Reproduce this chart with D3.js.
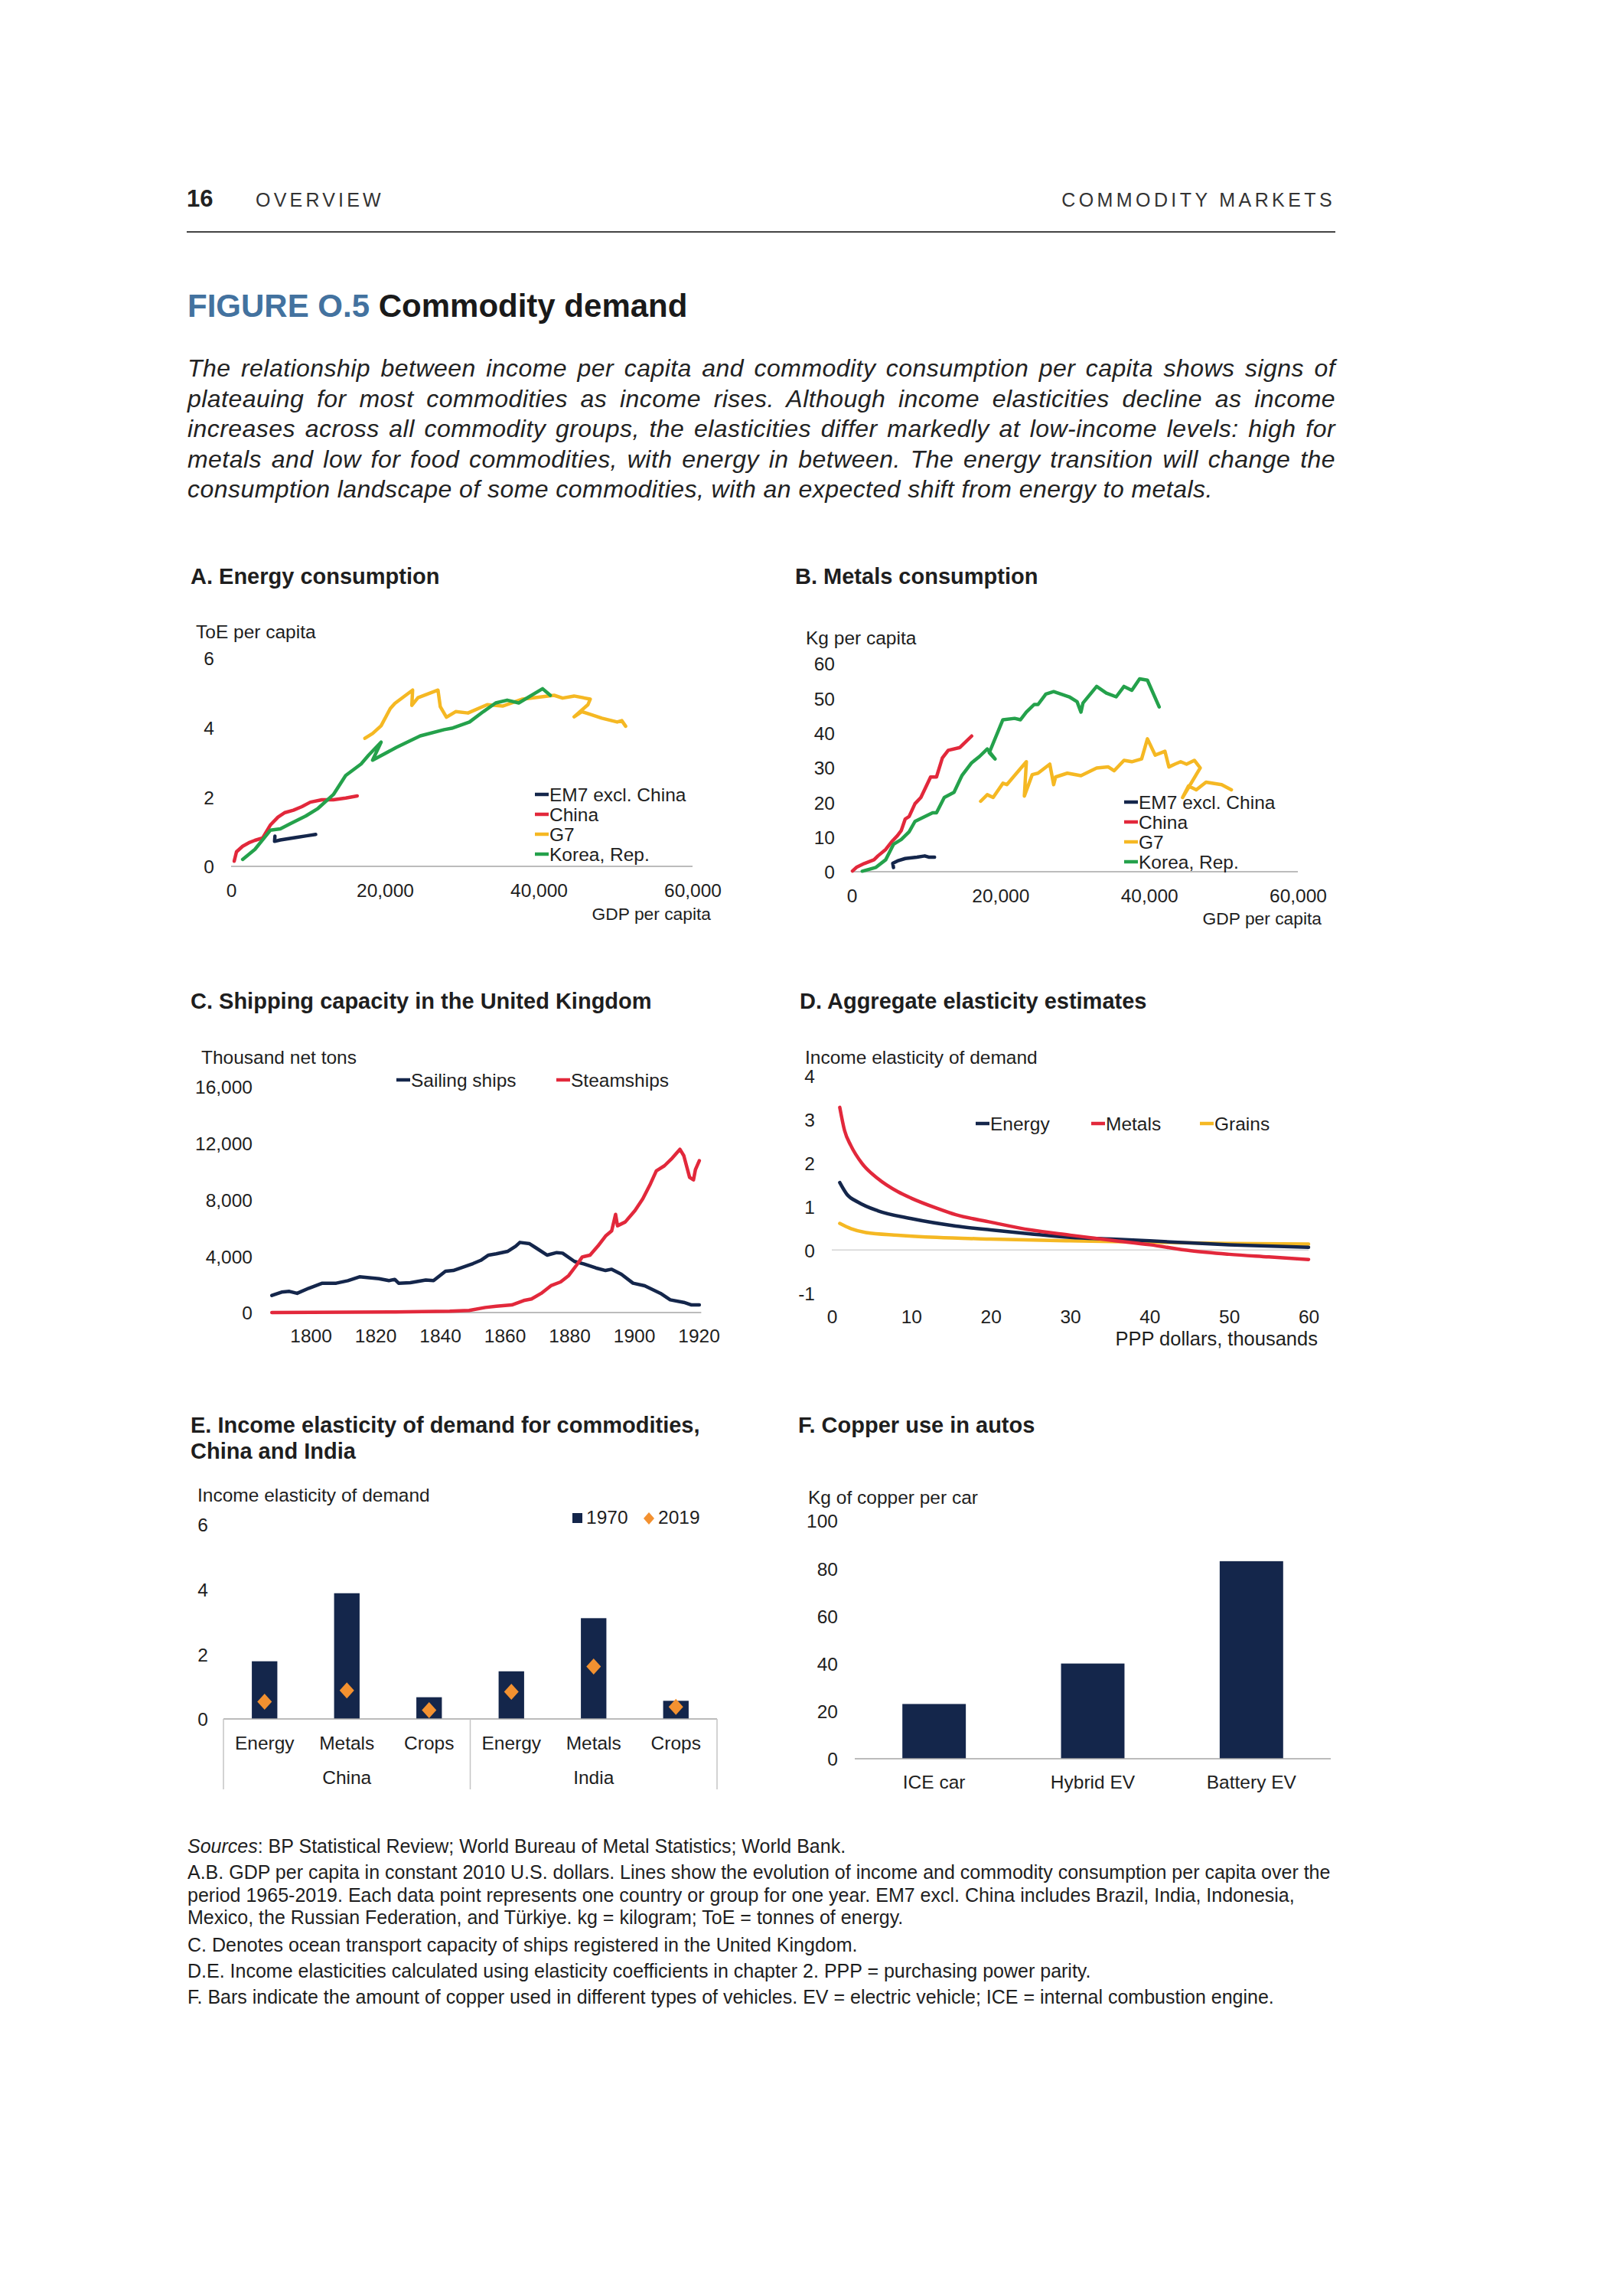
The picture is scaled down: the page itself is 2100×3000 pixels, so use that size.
<!DOCTYPE html>
<html><head><meta charset="utf-8">
<script src="https://cdn.jsdelivr.net/npm/d3@7"></script>
<style>body{margin:0;background:#fff}</style>
</head><body>
<svg id="c" width="2100" height="3000" xmlns="http://www.w3.org/2000/svg"></svg>
<script>
// ---------------- DATA ----------------
// Panel A: Energy consumption (GDP per capita, ToE per capita)
const energyEM7 = [[5700,0.87],[5650,0.72],[6400,0.76],[7500,0.8],[8600,0.84],[9800,0.88],[11000,0.92]];
const energyChina = [[400,0.15],[700,0.42],[1500,0.58],[2300,0.68],[3100,0.75],[4100,0.82],[5100,1.19],[6100,1.42],[7000,1.55],[8100,1.62],[9200,1.72],[10300,1.85],[11800,1.92],[13300,1.92],[14900,1.97],[16400,2.03]];
const energyG7 = [[17400,3.69],[18400,3.83],[19500,4.05],[20700,4.55],[21300,4.7],[23600,5.08],[23500,4.64],[24300,4.86],[26900,5.08],[27200,4.6],[28000,4.3],[29200,4.46],[30800,4.42],[33300,4.66],[35300,4.62],[37900,4.82],[42000,4.93],[43100,4.85],[44600,4.91],[46700,4.82],[46400,4.66],[44600,4.31],[45600,4.46],[46700,4.38],[48200,4.27],[50200,4.16],[50800,4.2],[51300,4.04]];
const energyKorea = [[1500,0.2],[3100,0.49],[5100,1.04],[6400,1.08],[7700,1.23],[9700,1.45],[11300,1.67],[13300,2.07],[14900,2.62],[16900,2.95],[17900,3.21],[19500,3.58],[18400,3.06],[21500,3.43],[24600,3.76],[27700,3.94],[28700,3.98],[31000,4.16],[32800,4.46],[34400,4.71],[35900,4.79],[37400,4.71],[40500,5.12],[41500,4.93]];

// Panel B: Metals consumption (GDP per capita, kg per capita)
const metalsEM7 = [[5620,1.2],[5520,2.4],[6150,3.1],[7200,3.8],[8770,4.2],[9820,4.55],[10350,4.2],[11140,4.2]];
const metalsChina = [[100,0.2],[630,1.25],[1680,2.35],[3000,3.45],[3520,4.55],[4570,6.4],[5360,8.6],[6150,10.4],[6670,11.9],[7200,15.2],[7720,15.9],[8510,19.6],[9300,21.4],[10610,27.3],[11400,27.3],[12190,32.8],[12980,35],[14550,35.8],[15080,36.9],[16130,39.1]];
const metalsG7 = [[17340,20.3],[18230,22.2],[19020,21.4],[20330,25.5],[20860,25.1],[22170,28.4],[23490,31.7],[23220,21.8],[24280,28],[25060,28.4],[26640,31],[27160,25.1],[27420,27.3],[29000,28.4],[30830,27.7],[32940,29.9],[34510,30.2],[35300,29.1],[36620,32.1],[37670,31.7],[38990,32.5],[39770,38.3],[40820,33.6],[42130,34.7],[42660,30.2],[43450,31],[44240,31.7],[45030,31],[46080,32.1],[46870,29.9],[44500,21.4],[45290,24.7],[46340,23.6],[47650,25.8],[49750,25.1],[51060,23.6]];
const metalsKorea = [[1420,0.15],[3260,1.25],[4570,3.45],[5620,7.9],[6670,9.3],[7720,11.5],[8510,14.5],[9820,15.9],[10880,17],[11400,17],[12450,21.4],[13760,22.9],[14820,27.7],[16130,31.4],[17180,33.2],[18230,35.4],[19280,32.5],[18500,34.3],[20330,43.8],[21910,44.2],[22700,43.8],[23490,46],[24540,48.2],[25060,48.2],[26110,51.2],[27160,51.9],[29260,50.4],[30310,49],[30830,46],[31100,48.6],[32940,53.4],[34250,51.5],[35570,50.4],[36620,53.4],[37670,52.3],[38720,55.6],[39770,55.2],[41350,47.5]];

// Panel C: Shipping capacity UK (year, thousand net tons)
const sailingShips = [[1788,1210],[1791,1450],[1793.4,1500],[1795.8,1360],[1799.4,1720],[1803.6,2080],[1807.9,2080],[1811.5,2260],[1815.1,2530],[1821.1,2400],[1824.2,2260],[1826,2350],[1827.2,2080],[1830.8,2120],[1835.6,2300],[1838,2260],[1841.7,2930],[1844.1,2980],[1850.2,3470],[1852.6,3700],[1855,4070],[1857.4,4160],[1861,4340],[1863.4,4700],[1864.7,4970],[1867.7,4880],[1869.5,4610],[1873.1,4070],[1876.1,4250],[1877.9,4210],[1881.6,3620],[1884.6,3440],[1888.2,3160],[1891.2,2980],[1893.1,3070],[1896.1,2710],[1899.7,2080],[1903.3,1900],[1908.2,1360],[1911.2,900],[1915.4,720],[1917.8,540],[1920.2,540]];
const steamShips = [[1788,0],[1826,40],[1843,90],[1849,145],[1854,360],[1857.4,450],[1862.2,540],[1865.9,850],[1868.3,960],[1871.3,1360],[1874.3,1900],[1877.3,2170],[1879.8,2620],[1882.2,3350],[1884,3940],[1886.4,4070],[1888.8,4700],[1891.2,5420],[1893.1,5790],[1894.3,6960],[1894.9,6150],[1897.3,6420],[1900.3,7230],[1902.7,8050],[1905.1,9130],[1906.9,10040],[1909.4,10400],[1911.8,10940],[1914.2,11570],[1915.4,11120],[1917.2,9580],[1918.4,9400],[1919,10130],[1920.2,10760]];

// Panel D: Aggregate elasticity estimates (PPP thousands, elasticity)
const elastEnergy = [[1,1.55],[1.9,1.28],[3.3,1.1],[5.8,0.9],[10,0.72],[15.6,0.55],[20,0.46],[25,0.37],[30,0.29],[35.3,0.25],[40,0.21],[45.2,0.16],[50,0.12],[60,0.06]];
const elastMetals = [[1,3.28],[1.6,2.75],[2.4,2.4],[3.8,1.99],[5.8,1.64],[8.3,1.34],[10,1.19],[13.2,0.96],[15.6,0.81],[20,0.64],[25,0.46],[30,0.34],[35.3,0.22],[40,0.12],[45.2,-0.02],[50,-0.1],[55,-0.16],[60,-0.22]];
const elastGrains = [[1,0.61],[2.4,0.49],[4.3,0.4],[8.3,0.34],[13.2,0.29],[20,0.25],[30,0.21],[40,0.18],[50,0.15],[60,0.135]];

// Panel E: Income elasticity, China and India
const eCategories = ['Energy','Metals','Crops','Energy','Metals','Crops'];
const eGroups = ['China','India'];
const e1970 = [1.78, 3.88, 0.67, 1.47, 3.11, 0.56];
const e2019 = [0.53, 0.88, 0.27, 0.84, 1.62, 0.37];

// Panel F: Copper use in autos
const fCategories = ['ICE car','Hybrid EV','Battery EV'];
const fValues = [23, 40, 83];

// Tick labels
const ticksA = [0,2,4,6];
const ticksB = [0,10,20,30,40,50,60];
const ticksGDP = [0,20000,40000,60000];
const ticksC = [0,4000,8000,12000,16000];
const ticksCx = [1800,1820,1840,1860,1880,1900,1920];
const ticksD = [-1,0,1,2,3,4];
const ticksDx = [0,10,20,30,40,50,60];
const ticksE = [0,2,4,6];
const ticksF = [0,20,40,60,80,100];

// ---------------- STYLE ----------------
const FONT = '"Liberation Sans", Arial, Helvetica, sans-serif';
const NAVY = '#14264b', RED = '#e2283b', YEL = '#f5b823', GRN = '#24a14b', ORG = '#f39130';
const TXT = '#1e1e1e', AXIS = '#a6a6a6';
const TICK = 24.5;
const PT = 29; // panel title size

const svg = d3.select('#c').attr('font-family', FONT);
svg.append('rect').attr('width',2100).attr('height',3000).attr('fill','#fff');

function txt(x, y, s, o = {}) {
  const t = svg.append('text').attr('x', x).attr('y', y).text(s)
    .attr('font-size', o.size || TICK).attr('fill', o.fill || TXT)
    .attr('text-anchor', o.anchor || 'start');
  if (o.weight) t.attr('font-weight', o.weight);
  if (o.style) t.attr('font-style', o.style);
  if (o.ls) t.attr('letter-spacing', o.ls);
  return t;
}
const plain = d => String(d);
function yAxis(scale, x, ticks, fmt) {
  const g = svg.append('g').attr('transform', `translate(${x},0)`)
    .call(d3.axisLeft(scale).tickValues(ticks).tickSize(0).tickPadding(0).tickFormat(fmt || d3.format(',')));
  g.select('.domain').remove();
  g.attr('font-family', FONT).attr('font-size', TICK);
  g.selectAll('text').attr('fill', TXT).attr('dy', '0.36em');
  return g;
}
function xAxis(scale, lineY, baseY, ticks, fmt) {
  const g = svg.append('g').attr('transform', `translate(0,${lineY})`)
    .call(d3.axisBottom(scale).tickValues(ticks).tickSize(0).tickPadding(0).tickFormat(fmt || d3.format(',')));
  g.select('.domain').remove();
  g.attr('font-family', FONT).attr('font-size', TICK);
  g.selectAll('text').attr('fill', TXT).attr('dy', null).attr('y', baseY - lineY);
  return g;
}
function hline(x1, x2, y, color, w) {
  svg.append('line').attr('x1', x1).attr('x2', x2).attr('y1', y).attr('y2', y)
    .attr('stroke', color || AXIS).attr('stroke-width', w || 1.5);
}
function series(data, xs, ys, color, w, curve) {
  const line = d3.line().x(d => xs(d[0])).y(d => ys(d[1])).curve(curve || d3.curveLinear);
  svg.append('path').datum(data).attr('d', line).attr('fill', 'none')
    .attr('stroke', color).attr('stroke-width', w || 4.5)
    .attr('stroke-linejoin', 'round').attr('stroke-linecap', 'round');
}
function legendItem(x, yc, color, label, len) {
  svg.append('line').attr('x1', x).attr('x2', x + (len || 18)).attr('y1', yc).attr('y2', yc)
    .attr('stroke', color).attr('stroke-width', 4.5);
  txt(x + (len || 18) + 1, yc + 9, label);
}

// ---------------- HEADER ----------------
txt(244, 270, '16', {size: 31, weight: 'bold', fill: '#222'});
txt(334, 270, 'OVERVIEW', {size: 25, fill: '#333', ls: 4.2});
txt(1745, 270, 'COMMODITY MARKETS', {size: 25, fill: '#333', ls: 4.4, anchor: 'end'});
hline(244, 1745, 303, '#444', 2);

const title = svg.append('text').attr('x', 245).attr('y', 414).attr('font-size', 42).attr('font-weight', 'bold');
title.append('tspan').attr('fill', '#43729f').text('FIGURE O.5 ');
title.append('tspan').attr('fill', '#1a1a1a').text('Commodity demand');

const para = [
  'The relationship between income per capita and commodity consumption per capita shows signs of',
  'plateauing for most commodities as income rises. Although income elasticities decline as income',
  'increases across all commodity groups, the elasticities differ markedly at low-income levels: high for',
  'metals and low for food commodities, with energy in between. The energy transition will change the',
  'consumption landscape of some commodities, with an expected shift from energy to metals.'
];
const PW = 1500;
para.forEach((s, i) => {
  const t = txt(245, 492 + i * 39.5, s, {size: 32, style: 'italic', fill: '#222', ls: 0.45});
  if (i < para.length - 1) {
    const L = t.node().getComputedTextLength();
    const n = (s.match(/ /g) || []).length;
    t.attr('word-spacing', Math.max(0, (PW - L) / n));
  }
});

// ---------------- PANEL A ----------------
txt(249, 763, 'A. Energy consumption', {size: PT, weight: 'bold'});
txt(256, 834, 'ToE per capita');
const xA = d3.scaleLinear().domain([0, 60000]).range([302, 905]);
const yA = d3.scaleLinear().domain([0, 6]).range([1132, 860]);
yAxis(yA, 280, ticksA);
hline(xA(0), xA(60000), yA(0));
xAxis(xA, yA(0), 1172, ticksGDP);
txt(929, 1202, 'GDP per capita', {size: 22.8, anchor: 'end'});
series(energyG7, xA, yA, YEL);
series(energyChina, xA, yA, RED);
series(energyKorea, xA, yA, GRN);
series(energyEM7, xA, yA, NAVY);
[['EM7 excl. China', NAVY], ['China', RED], ['G7', YEL], ['Korea, Rep.', GRN]].forEach((d, i) =>
  legendItem(699, 1038 + i * 26, d[1], d[0]));

// ---------------- PANEL B ----------------
txt(1039, 763, 'B. Metals consumption', {size: PT, weight: 'bold'});
txt(1053, 842, 'Kg per capita');
const xB = d3.scaleLinear().domain([0, 60000]).range([1113, 1696]);
const yB = d3.scaleLinear().domain([0, 60]).range([1139, 867]);
yAxis(yB, 1091, ticksB);
hline(xB(0), xB(60000), yB(0));
xAxis(xB, yB(0), 1179, ticksGDP);
txt(1727, 1208, 'GDP per capita', {size: 22.8, anchor: 'end'});
series(metalsG7, xB, yB, YEL);
series(metalsChina, xB, yB, RED);
series(metalsKorea, xB, yB, GRN);
series(metalsEM7, xB, yB, NAVY);
[['EM7 excl. China', NAVY], ['China', RED], ['G7', YEL], ['Korea, Rep.', GRN]].forEach((d, i) =>
  legendItem(1469, 1048 + i * 26, d[1], d[0]));

// ---------------- PANEL C ----------------
txt(249, 1318, 'C. Shipping capacity in the United Kingdom', {size: PT, weight: 'bold'});
txt(263, 1390, 'Thousand net tons');
const xC = d3.scaleLinear().domain([1800, 1920]).range([406, 913]);
const yC = d3.scaleLinear().domain([0, 16000]).range([1715, 1420]);
yAxis(yC, 330, ticksC);
hline(xC(1787.5), xC(1920.8), yC(0));
xAxis(xC, yC(0), 1754, ticksCx, plain);
series(sailingShips, xC, yC, NAVY, 4.5);
series(steamShips, xC, yC, RED, 4.5);
legendItem(518, 1411, NAVY, 'Sailing ships');
legendItem(727, 1411, RED, 'Steamships');

// ---------------- PANEL D ----------------
txt(1045, 1318, 'D. Aggregate elasticity estimates', {size: PT, weight: 'bold'});
txt(1052, 1390, 'Income elasticity of demand');
const xD = d3.scaleLinear().domain([0, 60]).range([1087, 1710]);
const yD = d3.scaleLinear().domain([-1, 4]).range([1690, 1406]);
yAxis(yD, 1065, ticksD, plain);
hline(xD(0), xD(60), yD(0), '#d4d4d4', 1.5);
xAxis(xD, yD(-1), 1729, ticksDx, plain);
txt(1722, 1758, 'PPP dollars, thousands', {size: 25.5, anchor: 'end'});
series(elastGrains, xD, yD, YEL, 4.5, d3.curveMonotoneX);
series(elastEnergy, xD, yD, NAVY, 4.5, d3.curveMonotoneX);
series(elastMetals, xD, yD, RED, 4.5, d3.curveMonotoneX);
legendItem(1275, 1468, NAVY, 'Energy');
legendItem(1426, 1468, RED, 'Metals');
legendItem(1568, 1468, YEL, 'Grains');

// ---------------- PANEL E ----------------
txt(249, 1872, 'E. Income elasticity of demand for commodities,', {size: PT, weight: 'bold'});
txt(249, 1906, 'China and India', {size: PT, weight: 'bold'});
txt(258, 1962, 'Income elasticity of demand');
const eKeys = eCategories.map((c, i) => eGroups[Math.floor(i / 3)] + '-' + c);
const xE = d3.scaleBand().domain(eKeys).range([292, 937]).paddingInner(0.69).paddingOuter(0.345);
const yE = d3.scaleLinear().domain([0, 6]).range([2246, 1992]);
yAxis(yE, 272, ticksE);
svg.append('g').selectAll('rect').data(e1970).join('rect')
  .attr('x', (d, i) => xE(eKeys[i])).attr('width', xE.bandwidth())
  .attr('y', d => yE(d)).attr('height', d => yE(0) - yE(d)).attr('fill', NAVY);
hline(292, 937, yE(0), AXIS, 1.5);
[292, 614.5, 937].forEach(x => svg.append('line').attr('x1', x).attr('x2', x)
  .attr('y1', yE(0)).attr('y2', 2338).attr('stroke', '#c4c4c4').attr('stroke-width', 1.5));
const dia = (cx, cy, hw, hh) => `M${cx},${cy - hh}L${cx + hw},${cy}L${cx},${cy + hh}L${cx - hw},${cy}Z`;
svg.append('g').selectAll('path').data(e2019).join('path')
  .attr('d', (d, i) => dia(xE(eKeys[i]) + xE.bandwidth() / 2, yE(d), 9.5, 10.5)).attr('fill', ORG);
eCategories.forEach((c, i) => txt(xE(eKeys[i]) + xE.bandwidth() / 2, 2286, c, {anchor: 'middle'}));
eGroups.forEach((g, i) => txt(292 + (i + 0.5) * (937 - 292) / 2, 2331, g, {anchor: 'middle'}));
svg.append('rect').attr('x', 748).attr('y', 1977).attr('width', 13).attr('height', 13).attr('fill', NAVY);
txt(766, 1991, '1970');
svg.append('path').attr('d', dia(848, 1984, 7, 8)).attr('fill', ORG);
txt(860, 1991, '2019');

// ---------------- PANEL F ----------------
txt(1043, 1872, 'F. Copper use in autos', {size: PT, weight: 'bold'});
txt(1056, 1965, 'Kg of copper per car');
const xF = d3.scaleBand().domain(fCategories).range([1117, 1739]).paddingInner(0.6).paddingOuter(0.3);
const yF = d3.scaleLinear().domain([0, 100]).range([2298, 1987]);
yAxis(yF, 1095, ticksF);
svg.append('g').selectAll('rect').data(fValues).join('rect')
  .attr('x', (d, i) => xF(fCategories[i])).attr('width', xF.bandwidth())
  .attr('y', d => yF(d)).attr('height', d => yF(0) - yF(d)).attr('fill', NAVY);
hline(1117, 1739, yF(0), AXIS, 1.5);
fCategories.forEach(c => txt(xF(c) + xF.bandwidth() / 2, 2337, c, {anchor: 'middle'}));

// ---------------- NOTES ----------------
const NS = 25;
const src = svg.append('text').attr('x', 245).attr('y', 2421).attr('font-size', NS).attr('fill', TXT);
src.append('tspan').attr('font-style', 'italic').text('Sources');
src.append('tspan').text(': BP Statistical Review; World Bureau of Metal Statistics; World Bank.');
const notes = [
  ['A.B. GDP per capita in constant 2010 U.S. dollars. Lines show the evolution of income and commodity consumption per capita over the', 2455],
  ['period 1965-2019. Each data point represents one country or group for one year. EM7 excl. China includes Brazil, India, Indonesia,', 2485],
  ['Mexico, the Russian Federation, and Türkiye. kg = kilogram; ToE = tonnes of energy.', 2514],
  ['C. Denotes ocean transport capacity of ships registered in the United Kingdom.', 2550],
  ['D.E. Income elasticities calculated using elasticity coefficients in chapter 2. PPP = purchasing power parity.', 2584],
  ['F. Bars indicate the amount of copper used in different types of vehicles. EV = electric vehicle; ICE = internal combustion engine.', 2618]
];
notes.forEach(n => txt(245, n[1], n[0], {size: NS}));
</script></body></html>
